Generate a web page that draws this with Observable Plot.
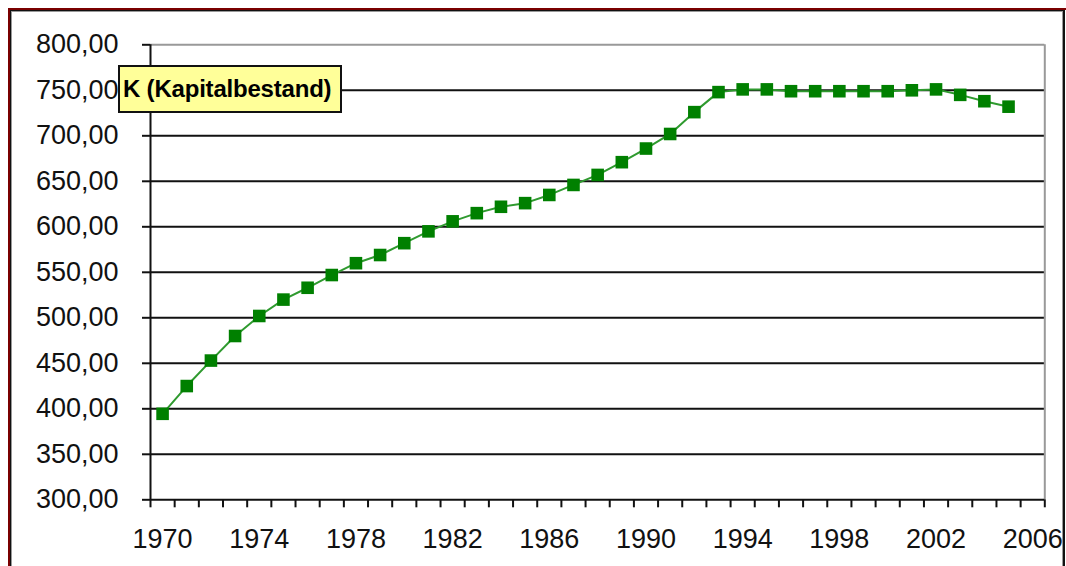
<!DOCTYPE html>
<html>
<head>
<meta charset="utf-8">
<script src="https://cdn.jsdelivr.net/npm/d3@7"></script>
<script src="https://cdn.jsdelivr.net/npm/@observablehq/plot@0.6"></script>
<style>
  html, body { margin: 0; padding: 0; background: #fff; }
  #wrap { position: relative; width: 1066px; height: 566px; overflow: hidden; background: #fff; }
  #outer { position: absolute; left: 8px; top: 8px; width: 1100px; height: 600px;
           border-top: 2px solid #7a0000; border-left: 2px solid #7a0000; }
  #inner { position: absolute; left: 10px; top: 10px; width: 1052px; height: 600px;
           border-top: 1.5px solid #111; border-left: 1.5px solid #111; border-right: 2px solid #111;
           box-shadow: inset 1px 1px 0 #999, inset -1px 0 0 #999; }
  #chart { position: absolute; left: 0; top: 0; }
  #label { position: absolute; left: 118px; top: 65px; width: 217px; height: 44px;
           background: #ffff99; border: 2px solid #111; box-sizing: content-box;
           font-family: "Liberation Sans", Arial, sans-serif; font-weight: bold; font-size: 24px;
           line-height: 44px; padding-left: 3px; color: #000; white-space: nowrap; letter-spacing: -0.2px; }
</style>
</head>
<body>
<div id="wrap">
  <div id="outer"></div>
  <div id="inner"></div>
  <div id="chart"></div>
  <div id="label">K (Kapitalbestand)</div>
</div>
<script>
// Data
const years = [1970,1971,1972,1973,1974,1975,1976,1977,1978,1979,1980,1981,1982,1983,1984,1985,1986,1987,
               1988,1989,1990,1991,1992,1993,1994,1995,1996,1997,1998,1999,2000,2001,2002,2003,2004,2005];
const kapital = [394.5,425,453,480,502,520,533,547,560,569,582,595,606,615,622,626,635,646,
                 657,671,686,702,726,748,751,751,749,749,749,749,749,750,751,745,738,732];
// Category axis (one category more than the data: 2006)
const categories = [1970,1971,1972,1973,1974,1975,1976,1977,1978,1979,1980,1981,1982,1983,1984,1985,1986,1987,
                    1988,1989,1990,1991,1992,1993,1994,1995,1996,1997,1998,1999,2000,2001,2002,2003,2004,2005,2006];
const xLabelYears = [1970,1974,1978,1982,1986,1990,1994,1998,2002,2006];
const yTicks = [300,350,400,450,500,550,600,650,700,750,800];

const data = years.map((y, i) => ({year: y, k: kapital[i]}));
const first = categories[0] - 0.5, last = categories[categories.length - 1] + 0.5;
const boundaries = categories.map(c => c - 0.5).concat([last]);
const fmt = d => d.toFixed(2).replace(".", ",");

const chart = Plot.plot({
  width: 1066,
  height: 566,
  marginLeft: 150,
  marginRight: 21.7,
  marginTop: 44.3,
  marginBottom: 66.7,
  x: {domain: [first, last], axis: null},
  y: {domain: [300, 800], axis: null},
  style: {fontFamily: "'Liberation Sans', Arial, sans-serif", fontSize: "27px", color: "#111", background: "transparent", overflow: "visible"},
  marks: [
    Plot.ruleY(yTicks.filter(t => t > 300 && t < 800), {stroke: "#111", strokeWidth: 2}),
    Plot.ruleY([800], {stroke: "#999", strokeWidth: 2}),
    Plot.ruleX([last], {stroke: "#999", strokeWidth: 2}),
    Plot.ruleX([first], {stroke: "#111", strokeWidth: 2}),
    Plot.ruleY([300], {stroke: "#111", strokeWidth: 2}),
    Plot.axisY(yTicks, {label: null, tickSize: 8, tickPadding: 24, tickFormat: fmt, stroke: "#111", strokeWidth: 2}),
    Plot.axisX(boundaries, {label: null, tickSize: 8, tickFormat: () => "", stroke: "#111", strokeWidth: 2}),
    Plot.axisX(xLabelYears, {label: null, tickSize: 0, tickPadding: 29, tickFormat: d => String(d)}),
    Plot.line(data, {x: "year", y: "k", stroke: "#2f9a2f", strokeWidth: 2}),
    Plot.dot(data, {x: "year", y: "k", symbol: "square", r: 7.1, fill: "#008000", stroke: "none"})
  ]
});
document.getElementById("chart").appendChild(chart);
</script>
</body>
</html>
